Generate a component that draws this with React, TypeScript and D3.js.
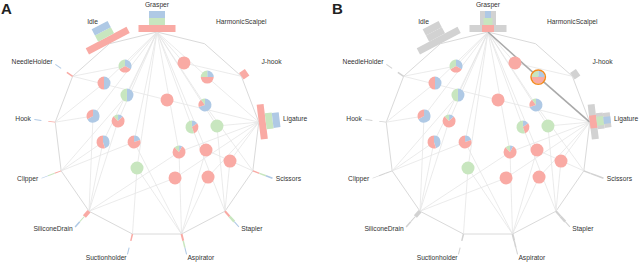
import React from 'react';
import * as d3 from 'd3';

const tools = ['Grasper', 'HarmonicScalpel', 'J-hook', 'Ligature', 'Scissors', 'Stapler', 'Aspirator', 'Suctionholder', 'SiliconeDrain', 'Clipper', 'Hook', 'NeedleHolder', 'Idle'];

// per-tool totals per class
const redTotals = [37, 0, 8, 35, 1.5, 2, 2, 1.5, 4, 1, 0.8, 1.5, 46];
const greenTotals = [16, 0, 0, 16, 1.5, 2.5, 1.5, 0, 1, 1, 0, 0, 18];
const blueTotals = [16, 0, 0, 15, 1.5, 1, 1, 1, 1.5, 0.5, 1, 1, 18];

// selected combination counts (panel B)
const selRed = [12, 0, 0, 13, 0, 0, 0, 0, 0, 0, 0, 0, 0];
const selGreen = [9, 0, 0, 9, 0, 0, 0, 0, 0, 0, 0, 0, 0];
const selBlue = [6, 0, 0, 7, 0, 0, 0, 0, 0, 0, 0, 0, 0];

// combination nodes: normalized layout position (units of polygon radius)
const nodeU = [-0.312, -0.517, -0.293, -0.624, -0.38, 0.263, 0.49, 0.098, 0.468, 0.341, 0.585, -0.527, -0.224, -0.195, 0.215, 0.478, 0.712, 0.176, 0.498];
const nodeV = [-0.668, -0.502, -0.385, -0.18, -0.132, -0.698, -0.56, -0.337, -0.288, -0.073, -0.083, 0.073, 0.073, 0.327, 0.171, 0.151, 0.259, 0.424, 0.415];
const nodeRed = [34, 50, 0, 33, 75, 100, 50, 100, 20, 30, 0, 55, 80, 0, 80, 100, 100, 100, 100];
const nodeGreen = [33, 0, 50, 0, 12, 0, 25, 0, 10, 55, 100, 0, 0, 100, 12, 0, 0, 0, 0];
const nodeBlue = [33, 50, 50, 67, 13, 0, 25, 0, 70, 15, 0, 45, 20, 0, 8, 0, 0, 0, 0];
const nodeTools = [
  [0, 11], [0, 10], [0, 9], [0, 10, 8], [0, 8], [0, 2], [0, 3], [11, 3], [0, 4], [0, 5],
  [0, 3, 5], [0, 8, 9], [0, 6, 9], [0, 7, 6], [0, 6, 8, 3], [0, 6, 4], [3, 5], [3, 8], [3, 6],
];
const selectedNode = 6;

const RED = '#f9aaa4';
const GREEN = '#c8e6bf';
const BLUE = '#afc9e5';
const GRAY = '#d2d2d2';

const R = 102.5;
const CY = 134.5;
const BAR_T = 7;

function Panel({ cx, letter, mode }: { cx: number; letter: string; mode: 'A' | 'B' }) {
  const n = tools.length;
  const angle = d3.scaleLinear().domain([0, n]).range([0, 2 * Math.PI]);
  const sx = d3.scaleLinear().domain([-1, 1]).range([cx - R, cx + R]);
  const sy = d3.scaleLinear().domain([-1, 1]).range([CY - R, CY + R]);
  const barLen = d3.scaleLinear().domain([0, 46]).range([0, 46]);
  const verts = tools.map((_, i) => {
    const a = angle(i);
    return { x: sx(Math.sin(a)), y: sy(-Math.cos(a)), a };
  });
  const polyPath = d3.line()(verts.map(v => [v.x, v.y]).concat([[verts[0].x, verts[0].y]]) as [number, number][]);
  const pie = d3.pie<number>().sort(null).value(d => d);
  const arc = d3.arc<d3.PieArcDatum<number>>().innerRadius(0).outerRadius(6.5);
  const pieColors = [BLUE, RED, GREEN];

  const nodes = nodeU.map((u, i) => ({ x: sx(u), y: sy(nodeV[i]), i }));

  const bars = (vals: number[][], colors: string[], i: number, key: string) => {
    const v = verts[i];
    return (
      <g key={key} transform={`translate(${v.x},${v.y}) rotate(${(v.a * 180) / Math.PI})`}>
        {vals.map((arr, k) => {
          const w = barLen(arr[i]);
          if (w <= 0) return null;
          return <rect key={k} x={-w / 2} y={-(k + 1) * BAR_T} width={w} height={BAR_T} fill={colors[k]} />;
        })}
      </g>
    );
  };

  return (
    <g>
      <text x={cx - 156} y={13.5} fontFamily="Liberation Sans, Arial, sans-serif" fontWeight="bold" fontSize={15} fill="#222">{letter}</text>
      <path d={polyPath || ''} fill="none" stroke="#dadada" strokeWidth={1} />
      {nodes.map(nd => nodeTools[nd.i].map(t => (
        <line key={`${nd.i}-${t}`} x1={verts[t].x} y1={verts[t].y} x2={nd.x} y2={nd.y} stroke="#e6e6e6" strokeWidth={0.8} />
      )))}
      {mode === 'B' && nodeTools[selectedNode].map(t => (
        <line key={`sel-${t}`} x1={verts[t].x} y1={verts[t].y} x2={nodes[selectedNode].x} y2={nodes[selectedNode].y} stroke="#aaaaaa" strokeWidth={1.6} />
      ))}
      {tools.map((_, i) => mode === 'A'
        ? bars([redTotals, greenTotals, blueTotals], [RED, GREEN, BLUE], i, `b${i}`)
        : (
          <g key={`b${i}`}>
            {bars([redTotals, greenTotals, blueTotals], [GRAY, GRAY, GRAY], i, 'g')}
            {bars([selRed, selGreen, selBlue], [RED, GREEN, BLUE], i, 'c')}
          </g>
        ))}
      {nodes.map(nd => {
        const vals = [nodeBlue[nd.i], nodeRed[nd.i], nodeGreen[nd.i]];
        return (
          <g key={`p${nd.i}`} transform={`translate(${nd.x},${nd.y})`}>
            {pie(vals).map((s, k) => s.value > 0 ? <path key={k} d={arc(s) || ''} fill={pieColors[k]} /> : null)}
          </g>
        );
      })}
      {mode === 'B' && (
        <circle cx={nodes[selectedNode].x} cy={nodes[selectedNode].y} r={7.2} fill="none" stroke="#f28a1e" strokeWidth={1.5} />
      )}
      {tools.map((t, i) => {
        const a = verts[i].a;
        const s = Math.sin(a);
        const lr = 127;
        const anchor = s > 0.05 ? 'start' : s < -0.05 ? 'end' : 'middle';
        const rr = Math.abs(s) < 0.05 ? 129 : lr;
        return (
          <text key={t} x={cx + rr * s} y={CY - rr * Math.cos(a)} textAnchor={anchor} dominantBaseline="middle"
            fontFamily="Liberation Sans, Arial, sans-serif" fontSize={6.7} fill="#333">{t}</text>
        );
      })}
    </g>
  );
}

export default function App() {
  return (
    <svg width={640} height={262} style={{ position: 'absolute', left: 0, top: 0, background: '#fff' }}>
      <rect width={640} height={262} fill="#fff" />
      <Panel cx={157} letter="A" mode="A" />
      <Panel cx={488} letter="B" mode="B" />
    </svg>
  );
}
